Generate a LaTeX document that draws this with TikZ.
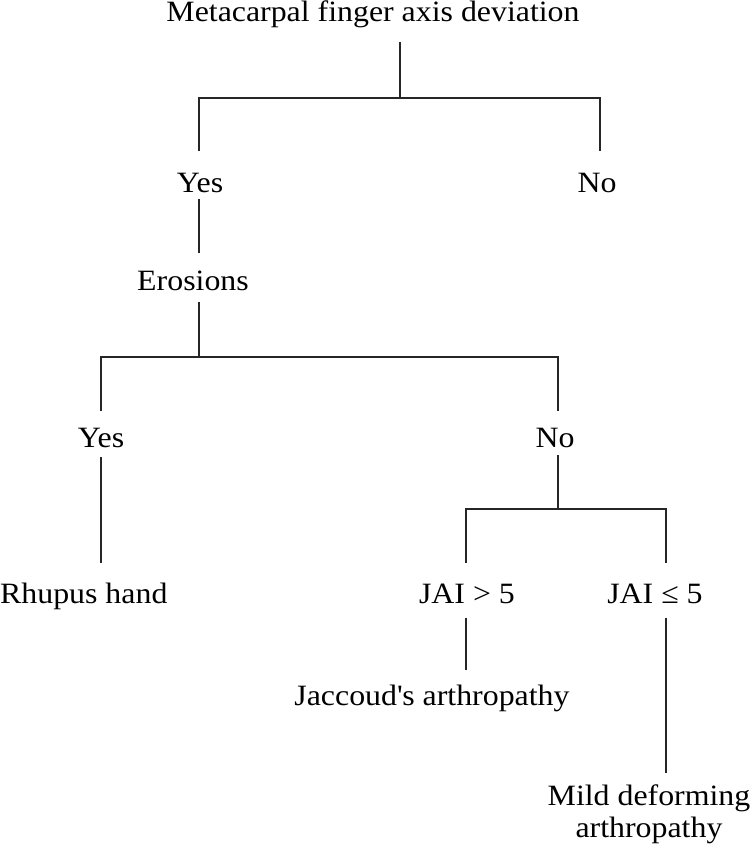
\documentclass[tikz,border=0pt]{standalone}
\usepackage{fontspec}
\setmainfont{Liberation Serif}[FakeStretch=1.08]
\usetikzlibrary{calc}
\begin{document}
\begin{tikzpicture}[x=1pt,y=-1pt,
  lbl/.style={anchor=base,inner sep=0pt,font=\fontsize{29.5}{32}\selectfont},
  conn/.style={line width=1.2pt,black!85}]
\useasboundingbox[fill=white] (0,0) rectangle (752,853);
% nodes
\node[lbl] (title) at (373,22) {Metacarpal finger axis deviation};
\node[lbl] (yes1) at (200,192) {Yes};
\node[lbl] (no1) at (597,192) {No};
\node[lbl] (eros) at (193,290) {Erosions};
\node[lbl] (yes2) at (101,447) {Yes};
\node[lbl] (no2) at (555,447) {No};
\node[lbl,anchor=base west] (rhupus) at (0,603) {Rhupus hand};
\node[lbl] (jai1) at (467,603) {JAI > 5};
\node[lbl] (jai2) at (655,603) {JAI ≤ 5};
\node[lbl] (jacc) at (432,705) {Jaccoud\textquotesingle s arthropathy};
\node[lbl,anchor=north,align=center] (mild) at (649,785) {Mild deforming\\arthropathy};
% junctions
\coordinate (j1) at (400,98);
\coordinate (j2) at (199,357);
\coordinate (j3) at (558,509);
% connectors
\draw[conn] ($(title.base)+(27,20)$) -- (j1);
\draw[conn] ($(yes1.base)+(-1,-41)$) |- (j1) -| ($(no1.base)+(3,-41)$);
\draw[conn] ($(yes1.base)+(-1,7)$) -- ($(eros.base)+(6,-37)$);
\draw[conn] ($(eros.base)+(6,12)$) -- (j2);
\draw[conn] ($(yes2.base)+(0,-36)$) |- (j2) -| ($(no2.base)+(3,-36)$);
\draw[conn] ($(yes2.base)+(0,10)$) -- ($(rhupus.base west)+(101,-40)$);
\draw[conn] ($(no2.base)+(3,8)$) -- (j3);
\draw[conn] ($(jai1.base)+(-1,-40)$) |- (j3) -| ($(jai2.base)+(11,-40)$);
\draw[conn] ($(jai1.base)+(-1,15)$) -- ($(jacc.base)+(34,-35)$);
\draw[conn] ($(jai2.base)+(11,15)$) -- ($(mild.north)+(17,-12)$);
\end{tikzpicture}
\end{document}
